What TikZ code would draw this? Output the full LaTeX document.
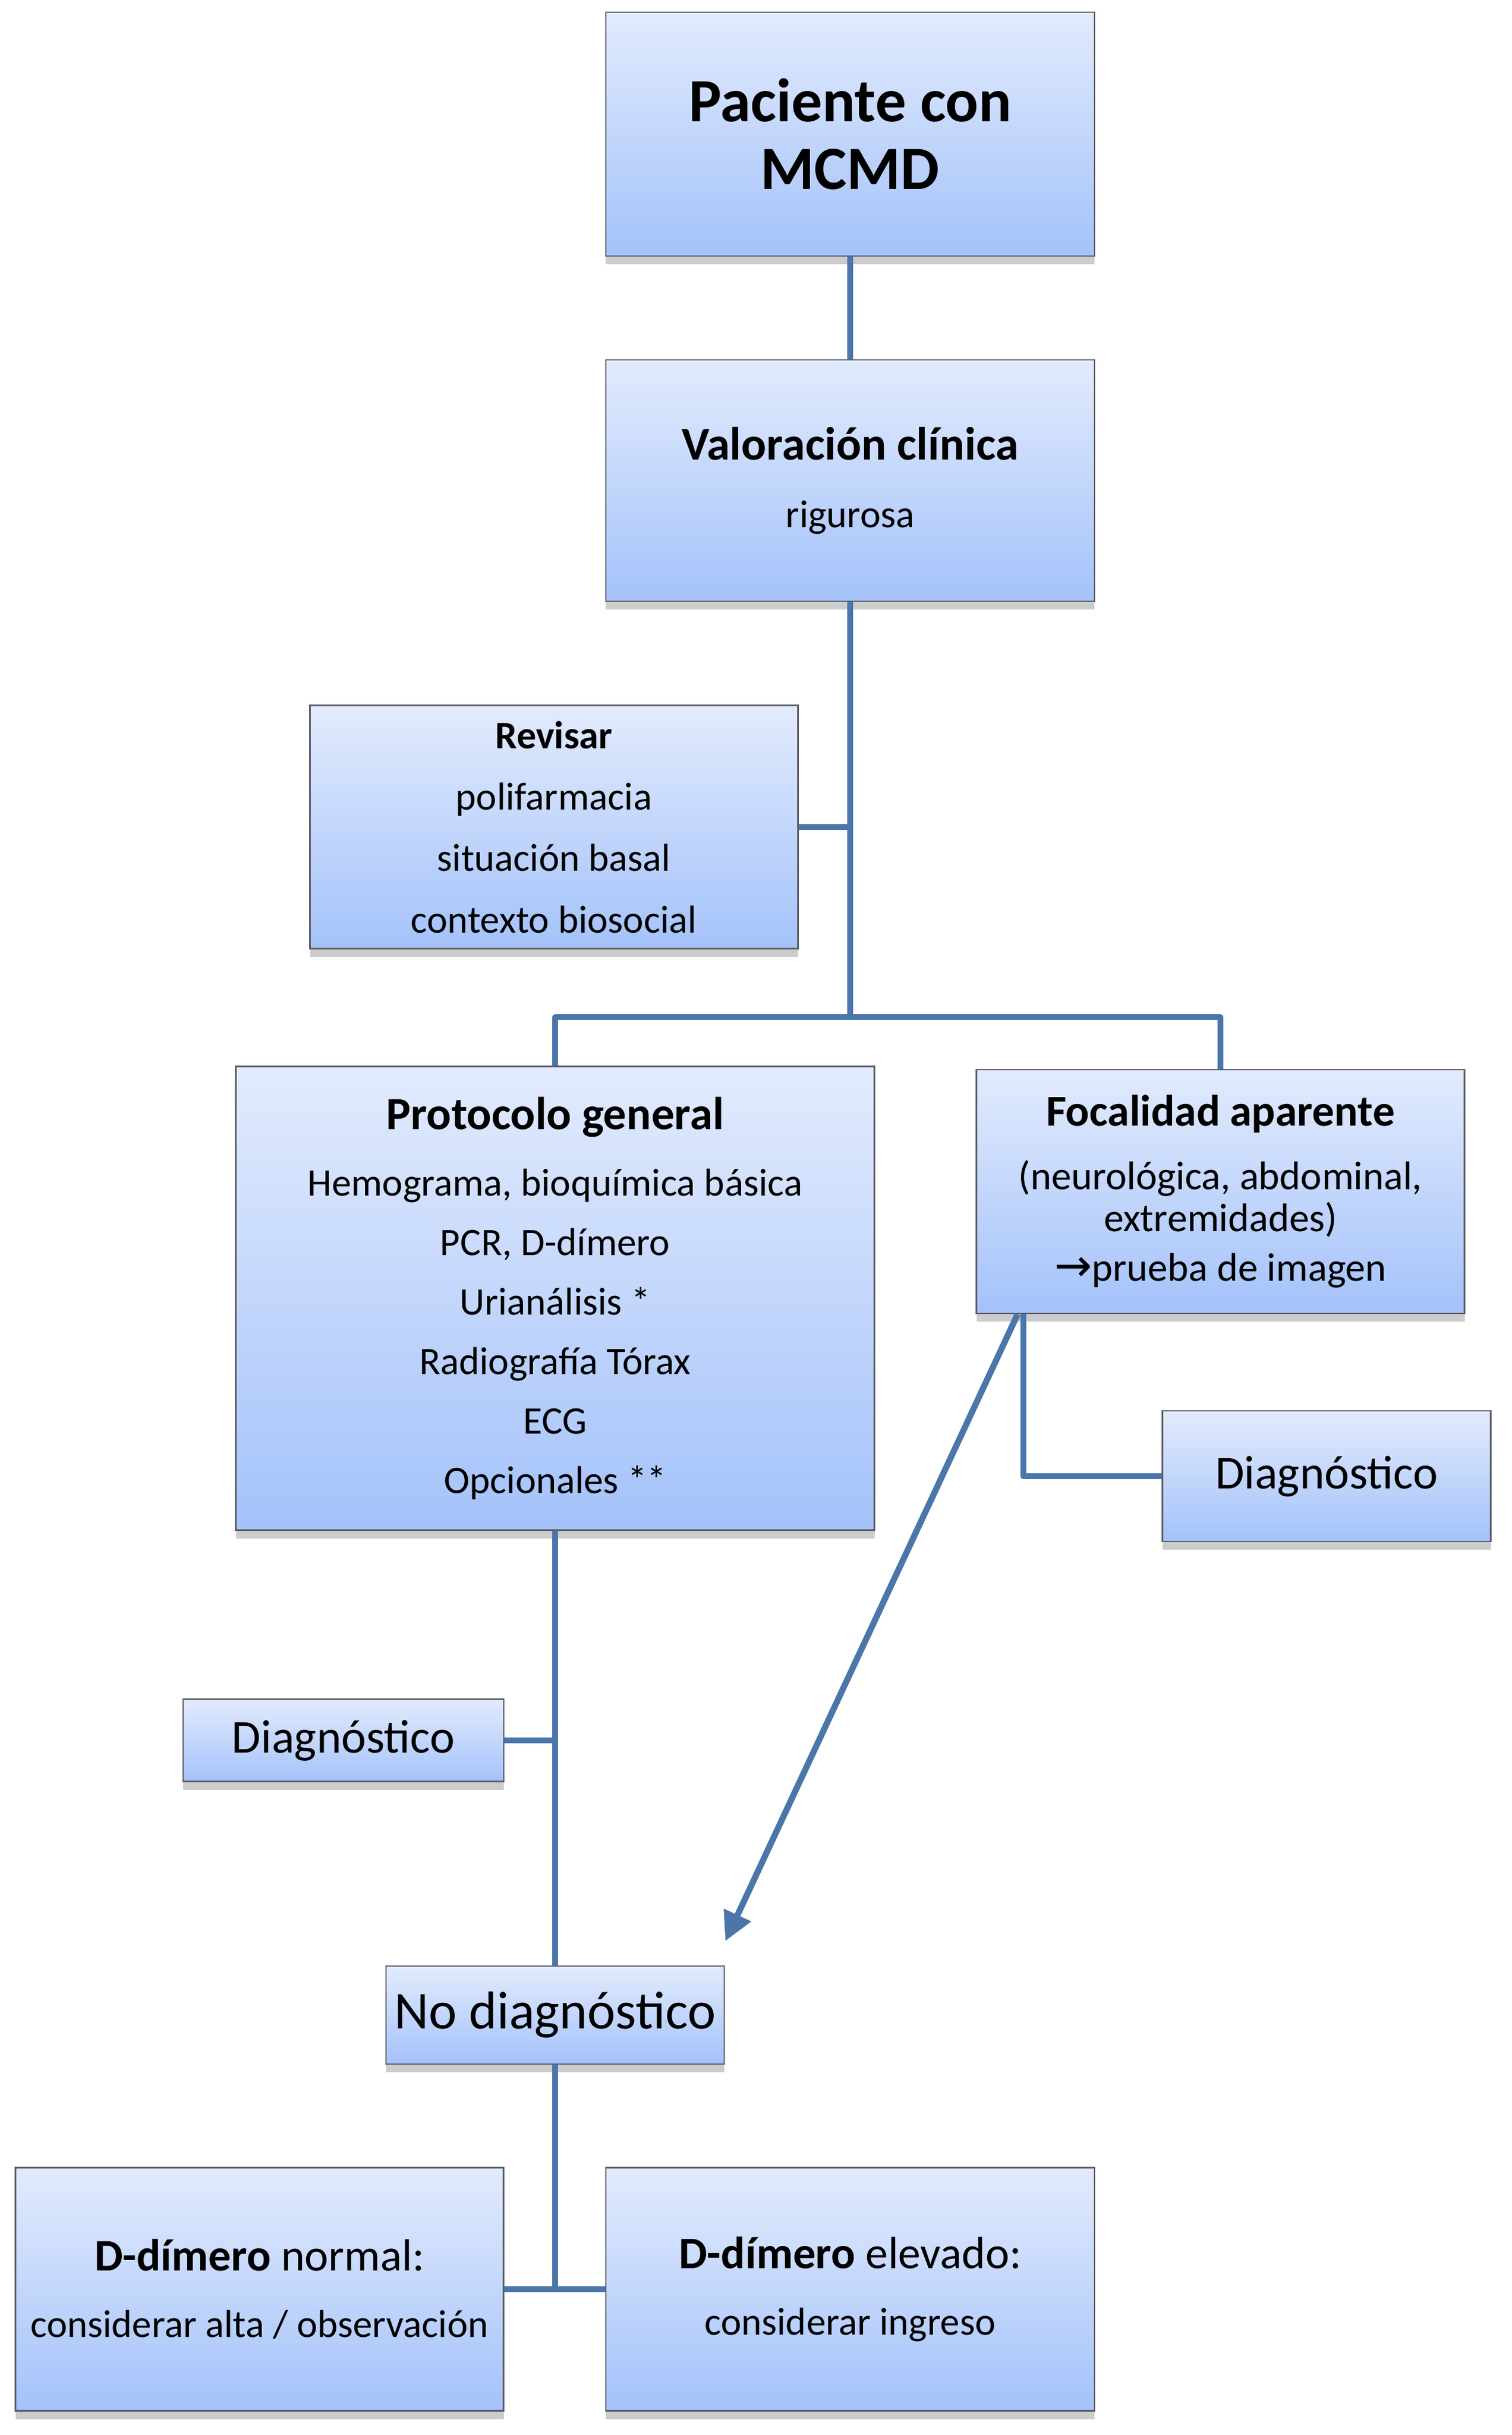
\documentclass[tikz,border=0pt]{standalone}
\usepackage{fontspec}
\setmainfont{Carlito}
\newfontfamily\flecha{DejaVu Sans}
\usetikzlibrary{arrows.meta,shadows}
\definecolor{cajaarriba}{RGB}{226,235,253}
\definecolor{cajaabajo}{RGB}{164,194,250}
\definecolor{azul}{RGB}{74,118,170}
\definecolor{borde}{RGB}{95,95,105}
\tikzset{font=\fontsize{19}{30}\selectfont}
\tikzset{caja/.style={rectangle,draw=borde,line width=0.8pt,top color=cajaarriba,bottom color=cajaabajo,
  inner sep=0pt,align=center,drop shadow={shadow xshift=0pt,shadow yshift=-4pt,opacity=0.4}}}
\tikzset{linea/.style={draw=azul,line width=3pt,line join=round}}
\begin{document}
\begin{tikzpicture}
\fill[white] (0,0) rectangle (25.92,-41.75);
\useasboundingbox (0,0) rectangle (25.92,-41.75);
% cajas
\node[caja,minimum width=8.38cm,minimum height=4.18cm,font=\fontsize{30}{33}\selectfont\bfseries] (pac) at (14.58,-2.30) {Paciente con\\MCMD};
\node[caja,minimum width=8.38cm,minimum height=4.14cm] (val) at (14.58,-8.24) {{\bfseries\fontsize{22.8}{26}\selectfont Valoración clínica}\\[3pt] rigurosa};
\node[caja,minimum width=8.37cm,minimum height=4.17cm] (rev) at (9.50,-14.18) {\textbf{Revisar}\\polifarmacia\\situación basal\\contexto biosocial};
\node[caja,minimum width=10.95cm,minimum height=7.95cm,font=\fontsize{19}{29}\selectfont] (prot) at (9.52,-22.26) {{\bfseries\fontsize{22.5}{26}\selectfont Protocolo general}\\[3.5pt]Hemograma, bioquímica básica\\PCR, D-dímero\\Urianálisis *\\Radiografía Tórax\\ECG\\Opcionales **};
\node[caja,minimum width=8.37cm,minimum height=4.18cm,font=\fontsize{19.5}{20.5}\selectfont] (foc) at (20.93,-20.43) {{\bfseries\fontsize{21.5}{26}\selectfont Focalidad aparente}\\[10.5pt](neurológica, abdominal,\\extremidades)\\[3.5pt]{\flecha\fontsize{22}{22}\selectfont →}prueba de imagen};
\node[caja,minimum width=5.63cm,minimum height=2.24cm,font=\fontsize{23}{28}\selectfont] (diagR) at (22.75,-25.31) {Diagnóstico};
\node[caja,minimum width=5.50cm,minimum height=1.41cm,font=\fontsize{23}{28}\selectfont] (diagL) at (5.89,-29.84) {Diagnóstico};
\node[caja,minimum width=5.80cm,minimum height=1.68cm,font=\fontsize{26}{30}\selectfont] (nodiag) at (9.52,-34.55) {No diagnóstico};
\node[caja,minimum width=8.37cm,minimum height=4.17cm] (dnorm) at (4.45,-39.25) {{\fontsize{22}{26}\selectfont\textbf{D-dímero} normal:}\\[2.5pt]considerar alta / observación};
\node[caja,minimum width=8.38cm,minimum height=4.17cm] (delev) at (14.58,-39.25) {{\fontsize{22}{26}\selectfont\textbf{D-dímero} elevado:}\\[2.5pt]considerar ingreso};
\coordinate (br) at (14.58,-17.44);
\coordinate (tipND) at (12.44,-33.28);
% conectores
\draw[linea] (pac.south) -- (val.north);
\draw[linea] (val.south) -- (br);
\draw[linea] (rev.east) -- (rev.east -| br);
\draw[linea] (prot.north) |- (br) -| (foc.north);
\draw[linea] ([xshift=0.82cm]foc.south west) |- (diagR.west);
\draw[linea,-{Triangle[length=14pt,width=14pt]}] ([xshift=0.72cm]foc.south west) -- (tipND);
\draw[linea] (prot.south) -- (nodiag.north);
\draw[linea] (diagL.east) -- (diagL.east -| prot.south);
\draw[linea] (nodiag.south) -- (nodiag.south |- dnorm.east);
\draw[linea] (dnorm.east) -- (delev.west);
\end{tikzpicture}
\end{document}
